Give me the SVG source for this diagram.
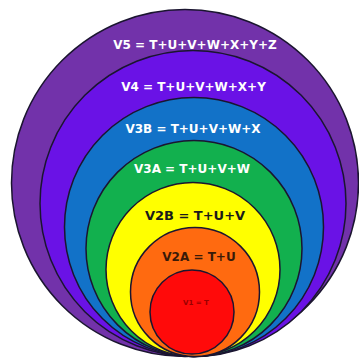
<svg xmlns="http://www.w3.org/2000/svg" width="359" height="362" viewBox="0 0 359 362">
  <style>
    .ring { stroke: #1b1530; stroke-width: 1.5; }
    .lbl { font-family: "DejaVu Sans", "Liberation Sans", sans-serif; font-weight: bold; font-size: 12px; text-anchor: middle; }
    .w { fill: #ffffff; }
    .k { fill: #1a1a1a; }
  </style>
  <rect width="359" height="362" fill="#ffffff"/>
  <g id="v5">
    <circle class="ring" cx="185" cy="183" r="173.5" fill="#7232aa"/>
    <text class="lbl w" x="195" y="49">V5 = T+U+V+W+X+Y+Z</text>
  </g>
  <g id="v4">
    <circle class="ring" cx="193" cy="203.5" r="153" fill="#6a12e6"/>
    <text class="lbl w" x="193.5" y="91">V4 = T+U+V+W+X+Y</text>
  </g>
  <g id="v3b">
    <circle class="ring" cx="194" cy="227" r="129.5" fill="#1272c8"/>
    <text class="lbl w" x="193" y="133">V3B = T+U+V+W+X</text>
  </g>
  <g id="v3a">
    <circle class="ring" cx="194" cy="248.5" r="108" fill="#12b04e"/>
    <text class="lbl w" x="192" y="173">V3A = T+U+V+W</text>
  </g>
  <g id="v2b">
    <circle class="ring" cx="193" cy="269.5" r="87" fill="#ffff00"/>
    <text class="lbl k" x="195" y="220" style="font-size:13px">V2B = T+U+V</text>
  </g>
  <g id="v2a">
    <circle class="ring" cx="195" cy="292" r="64.5" fill="#ff6a10"/>
    <text class="lbl" x="199" y="261" fill="#3a1a08">V2A = T+U</text>
  </g>
  <g id="v1">
    <circle class="ring" cx="192" cy="312" r="42" fill="#ff0a0a"/>
    <text class="lbl" x="196" y="305" fill="#9a0000" style="font-size:7px">V1 = T</text>
  </g>
  <g id="connectors"/>
</svg>
